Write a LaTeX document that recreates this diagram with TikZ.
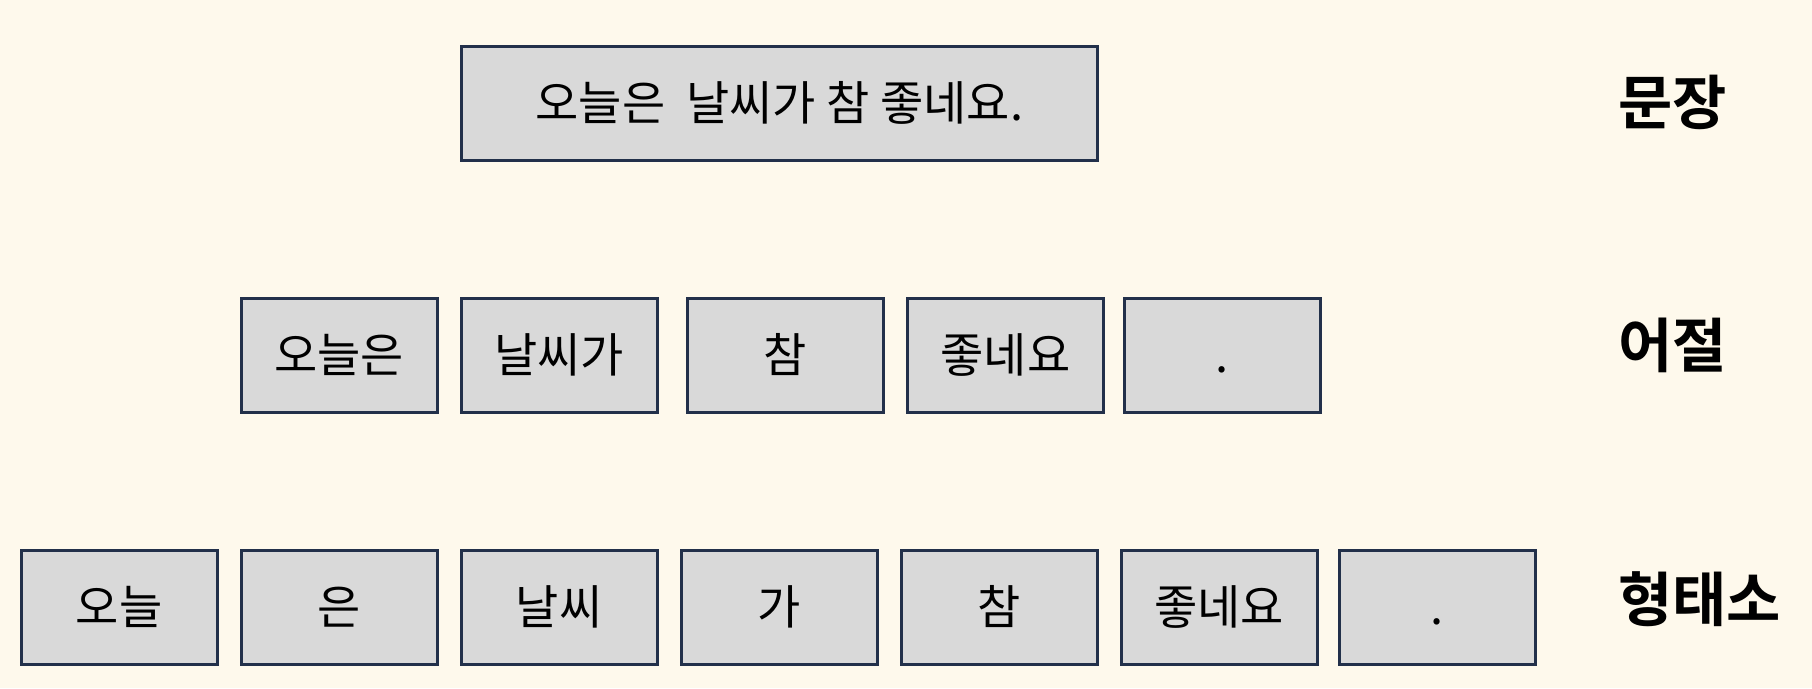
\documentclass[tikz,border=0pt]{standalone}
\usepackage{fontspec}
\newfontfamily\kr{Noto Sans CJK KR}
\newfontfamily\krb{Noto Sans CJK KR Bold}
\definecolor{bg}{HTML}{FEF9EC}
\definecolor{boxfill}{HTML}{D9D9D9}
\definecolor{boxline}{HTML}{22304A}
\begin{document}
\begin{tikzpicture}[x=1pt,y=-1pt,
  unit/.style={draw=boxline, fill=boxfill, line width=3pt, minimum width=196pt, minimum height=114pt, inner sep=0pt, font=\kr\fontsize{47}{54}\selectfont, text=black, execute at begin node={\vphantom{가}}},
  wide/.style={unit, minimum width=636pt},
  lvl/.style={anchor=west, inner sep=0pt, font=\krb\fontsize{59}{66}\selectfont, text=black}]
\fill[bg] (0,0) rectangle (1812,688);
\useasboundingbox (0,0) rectangle (1812,688);
% sentence
\node[wide] (s) at (779.5,103) {오늘은\hspace{0.45em}날씨가 참 좋네요.};
% eojeol
\node[unit] (e1) at (339,355) {오늘은};
\node[unit] (e2) at (559,355) {날씨가};
\node[unit] (e3) at (785,355) {참};
\node[unit] (e4) at (1005.5,355) {좋네요};
\node[unit] (e5) at (1222,355) {.};
% morphemes
\node[unit] (m1) at (119,607) {오늘};
\node[unit] (m2) at (339,607) {은};
\node[unit] (m3) at (559,607) {날씨};
\node[unit] (m4) at (779.5,607) {가};
\node[unit] (m5) at (999.5,607) {참};
\node[unit] (m6) at (1219,607) {좋네요};
\node[unit] (m7) at (1437.5,607) {.};
% level labels
\node[lvl] (l1) at (1618,102) {문장};
\node[lvl] (l2) at (1618,345) {어절};
\node[lvl] (l3) at (1618,599) {형태소};
\end{tikzpicture}
\end{document}
